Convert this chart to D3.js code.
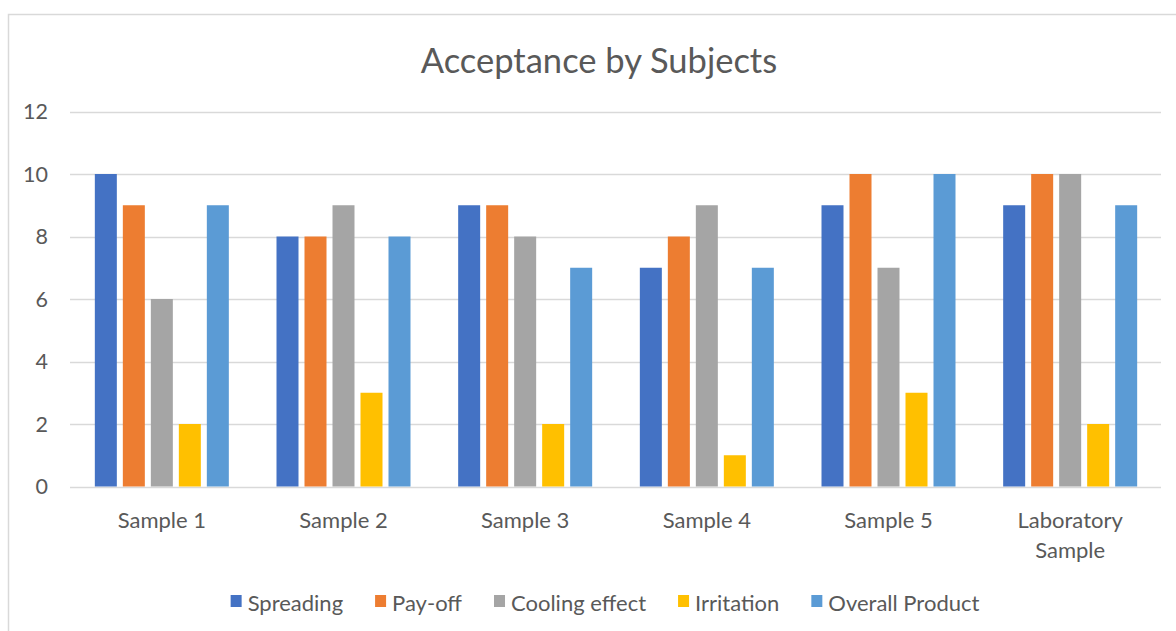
<!DOCTYPE html>
<html>
<head>
<meta charset="utf-8">
<script src="https://cdn.jsdelivr.net/npm/d3@7"></script>
<style>
  body { margin: 0; background: #fff; }
  svg { display: block; font-family: Lato, "Open Sans", sans-serif; }
</style>
</head>
<body>
<svg id="chart" width="1176" height="631"></svg>
<script>
// data
var categories = ["Sample 1", "Sample 2", "Sample 3", "Sample 4", "Sample 5", "Laboratory Sample"];
var seriesNames = ["Spreading", "Pay-off", "Cooling effect", "Irritation", "Overall Product"];
var seriesColors = ["#4472C4", "#ED7D31", "#A5A5A5", "#FFC000", "#5B9BD5"];
var spreading = [10, 8, 9, 7, 9, 9];
var payOff = [9, 8, 9, 8, 10, 10];
var cooling = [6, 9, 8, 9, 7, 10];
var irritation = [2, 3, 2, 1, 3, 2];
var overall = [9, 8, 7, 7, 10, 9];
var yTicks = [0, 2, 4, 6, 8, 10, 12];

var seriesValues = [spreading, payOff, cooling, irritation, overall];

var svg = d3.select("#chart");
var W = 1176, H = 631;
var plot = {left: 71, right: 1161, top: 111.5, bottom: 486.5};
var textColor = "#595959";

// chart border (runs off right/bottom)
svg.append("rect")
  .attr("x", 8.5).attr("y", 14.5)
  .attr("width", W + 20).attr("height", H + 20)
  .attr("fill", "#fff").attr("stroke", "#D9D9D9").attr("stroke-width", 1.5);

var x0 = d3.scaleBand().domain(categories).range([plot.left, plot.right]);
var x1 = d3.scaleBand().domain(seriesNames).range([0, 134]).paddingInner(6 / 28);
var y = d3.scaleLinear().domain([0, 12]).range([plot.bottom, plot.top]);

// title
svg.append("text")
  .attr("x", 599).attr("y", 73)
  .attr("text-anchor", "middle")
  .attr("font-size", 34.5)
  .attr("fill", textColor)
  .text("Acceptance by Subjects");

// gridlines
svg.append("g").selectAll("line")
  .data(yTicks)
  .enter().append("line")
  .attr("x1", plot.left - 1).attr("x2", plot.right)
  .attr("y1", function(d){ return Math.round(y(d)) + 0.5; })
  .attr("y2", function(d){ return Math.round(y(d)) + 0.5; })
  .attr("stroke", "#D9D9D9").attr("stroke-width", 1.5);

// y tick labels
svg.append("g").selectAll("text")
  .data(yTicks)
  .enter().append("text")
  .attr("x", 48)
  .attr("y", function(d){ return y(d) + 7.5; })
  .attr("text-anchor", "end")
  .attr("font-size", 21.5)
  .attr("fill", textColor)
  .text(function(d){ return d; });

// bars
var groups = svg.append("g").selectAll("g")
  .data(categories)
  .enter().append("g")
  .attr("transform", function(d){
    return "translate(" + (x0(d) + (x0.bandwidth() - 134) / 2) + ",0)";
  });

groups.selectAll("rect")
  .data(function(c, ci){
    return seriesNames.map(function(s, si){ return {series: s, idx: si, value: seriesValues[si][ci]}; });
  })
  .enter().append("rect")
  .attr("x", function(d){ return x1(d.series); })
  .attr("y", function(d){ return y(d.value); })
  .attr("width", x1.bandwidth())
  .attr("height", function(d){ return y(0) - y(d.value); })
  .attr("fill", function(d){ return seriesColors[d.idx]; });

// x labels
var xLab = svg.append("g").selectAll("text")
  .data(categories)
  .enter().append("text")
  .attr("text-anchor", "middle")
  .attr("font-size", 22)
  .attr("fill", textColor)
  .attr("transform", function(d){ return "translate(" + (x0(d) + x0.bandwidth() / 2) + ",528)"; });

xLab.each(function(d){
  var words = d === "Laboratory Sample" ? ["Laboratory", "Sample"] : [d];
  var t = d3.select(this);
  words.forEach(function(w, i){
    t.append("tspan").attr("x", 0).attr("dy", i === 0 ? 0 : 30).text(w);
  });
});

// legend
var legend = svg.append("g");
var items = legend.selectAll("g")
  .data(seriesNames)
  .enter().append("g");
items.append("rect")
  .attr("x", 0).attr("y", 595)
  .attr("width", 11).attr("height", 12)
  .attr("fill", function(d, i){ return seriesColors[i]; });
items.append("text")
  .attr("x", 17).attr("y", 611)
  .attr("font-size", 22)
  .attr("fill", textColor)
  .text(function(d){ return d; });

var pos = 0, offsets = [];
items.each(function(){
  offsets.push(pos);
  var tw = d3.select(this).select("text").node().getComputedTextLength();
  pos += 17 + tw + 32;
});
var total = pos - 32;
var startX = 605 - total / 2;
items.attr("transform", function(d, i){ return "translate(" + (startX + offsets[i]) + ",0)"; });
</script>
</body>
</html>
